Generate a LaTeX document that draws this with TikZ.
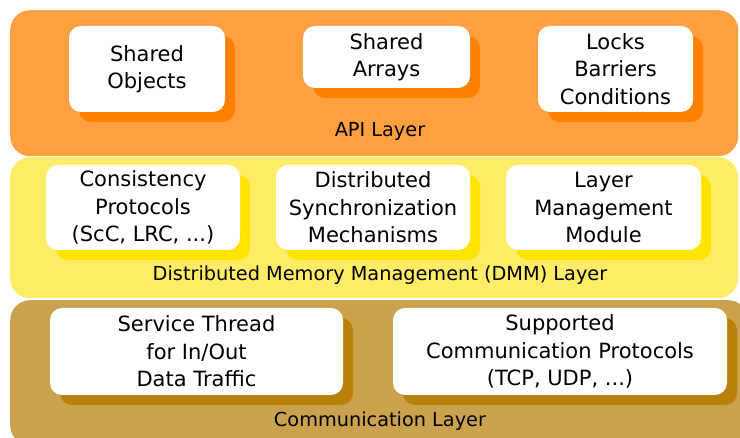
\documentclass[tikz,border=0pt]{standalone}
\usepackage{fontspec}
\setmainfont{DejaVu Sans}
\usetikzlibrary{shadows}
\definecolor{apibg}{RGB}{255,160,64}
\definecolor{apishade}{RGB}{255,128,0}
\definecolor{dmmbg}{RGB}{255,236,102}
\definecolor{dmmshade}{RGB}{255,228,0}
\definecolor{commbg}{RGB}{202,162,78}
\definecolor{commshade}{RGB}{184,130,10}
\tikzset{layer/.style = {rectangle, rounded corners=20pt, inner sep=0,
                         anchor=north west, fill=#1}}
\tikzset{box/.style = {rectangle, rounded corners=12pt, fill=white, align=center,
                       inner sep=0, font=\fontsize{21}{27.5}\selectfont,
                       general shadow={shadow xshift=10pt, shadow yshift=-10pt, fill=#1}}}
\tikzset{lbl/.style = {font=\fontsize{19.3}{27}\selectfont}}

\begin{document}
\begin{tikzpicture}[x=1pt, y=-1pt]
    \useasboundingbox (0, 0) rectangle (740, 438);
    \clip (0, 0) rectangle (740, 438);

    % layers
    \node [layer=apibg, minimum width=728pt, minimum height=146pt] (api) at (10, 10) {};
    \node [layer=dmmbg, minimum width=728pt, minimum height=141pt] (dmm) at (10, 157) {};
    \node [layer=commbg, minimum width=738pt, minimum height=145pt] (comm) at (10, 300) {};

    % API layer
    \node [box=apishade, minimum width=156pt, minimum height=86pt] (objects) at (147, 69) {Shared\\Objects};
    \node [box=apishade, minimum width=167pt, minimum height=62pt] (arrays) at (386.5, 57) {Shared\\Arrays};
    \node [box=apishade, minimum width=155pt, minimum height=86pt] (locks) at (615.5, 69) {Locks\\Barriers\\Conditions};
    \node [lbl] (apilbl) at (380, 131) {API Layer};

    % DMM layer
    \node [box=dmmshade, minimum width=194pt, minimum height=85pt] (consist) at (143, 207.5) {Consistency\\Protocols\\(ScC, LRC, ...)};
    \node [box=dmmshade, minimum width=194pt, minimum height=85pt] (sync) at (373, 207.5) {Distributed\\Synchronization\\Mechanisms};
    \node [box=dmmshade, minimum width=195pt, minimum height=85pt] (mgmt) at (603.5, 207.5) {Layer\\Management\\Module};
    \node [lbl] (dmmlbl) at (380, 275) {Distributed Memory Management (DMM) Layer};

    % communication layer
    \node [box=commshade, minimum width=293pt, minimum height=87pt] (service) at (196.5, 351.5) {Service Thread\\for In/Out\\Data Traffic};
    \node [box=commshade, minimum width=334pt, minimum height=87pt] (protos) at (560, 351.5) {Supported\\Communication Protocols\\(TCP, UDP, ...)};
    \node [lbl] (commlbl) at (380, 421) {Communication Layer};
\end{tikzpicture}
\end{document}
